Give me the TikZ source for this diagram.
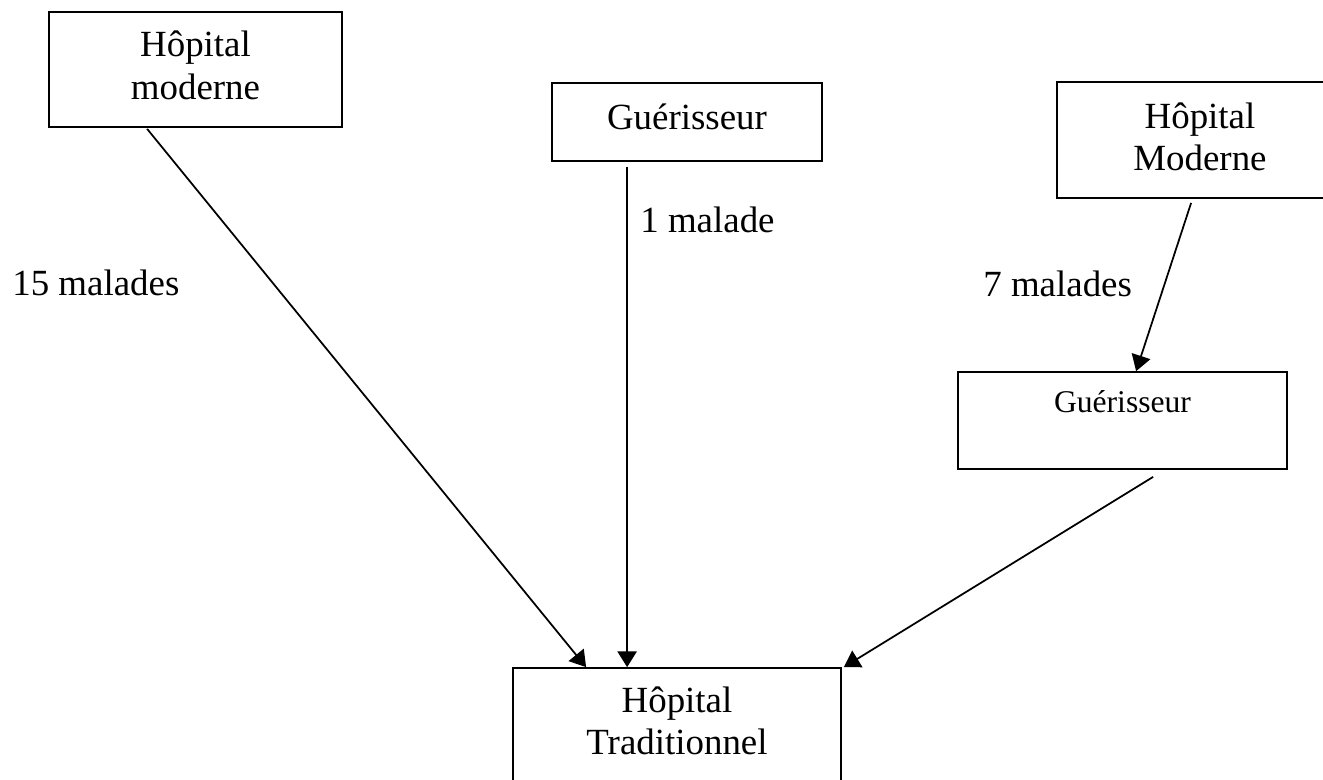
\documentclass[tikz,border=0pt]{standalone}
\usepackage{fontspec}
\setmainfont{Liberation Serif}
\usetikzlibrary{arrows.meta,calc}

\begin{document}
\begin{tikzpicture} [x=0.02cm, y=-0.02cm,
  box/.style={draw, line width=1pt, align=center, inner sep=0pt,
    font=\fontsize{21}{24}\selectfont, text depth=5pt},
  smallbox/.style={box, font=\fontsize{18}{21}\selectfont},
  arr/.style={line width=1pt, -{Triangle[length=9pt,width=11pt]}},
  lbl/.style={anchor=base west, inner sep=0pt, font=\fontsize{21}{24}\selectfont}]
\useasboundingbox (0,0) rectangle (1323,779);
\node [box, minimum width=293*0.02cm, minimum height=115*0.02cm] (hopA) at (195.5,69.5) {H\^opital\\moderne};
\node [box, minimum width=270*0.02cm, minimum height=78*0.02cm, text depth=6pt] (guerB) at (687,122) {Gu\'erisseur};
\node [box, minimum width=286*0.02cm, minimum height=116*0.02cm, text depth=4pt] (hopC) at (1200,140) {H\^opital\\Moderne};
\node [smallbox, minimum width=329*0.02cm, minimum height=97*0.02cm, text depth=22pt] (guerD) at (1122.5,420.5) {Gu\'erisseur};
\node [box, minimum width=328*0.02cm, minimum height=132*0.02cm, text depth=15.6pt] (trad) at (677,734) {H\^opital\\Traditionnel};
\node [lbl] (n15) at (12,295) {15 malades};
\node [lbl] (n1) at (640,232) {1 malade};
\node [lbl] (n7) at (983,296) {7 malades};
\draw [arr] ($(hopA.south west)+(99,1)$) -- ($(trad.north west)+(74,0)$);
\draw [arr] ($(guerB.south west)+(76,5)$) -- ($(trad.north west)+(115,0)$);
\draw [arr] ($(hopC.south west)+(135,4)$) -- ($(guerD.north west)+(179,0)$);
\draw [arr] ($(guerD.south west)+(196,7)$) -- ($(trad.north east)+(2,0)$);
\end{tikzpicture}
\end{document}
